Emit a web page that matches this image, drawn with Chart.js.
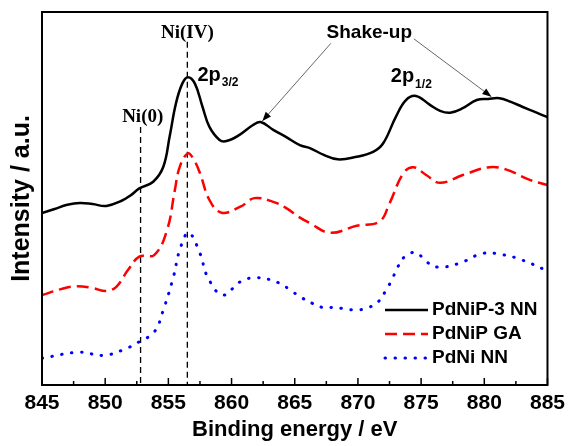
<!DOCTYPE html>
<html><head><meta charset="utf-8">
<script src="https://cdn.jsdelivr.net/npm/chart.js@4/dist/chart.umd.min.js"></script>
<style>html,body{margin:0;padding:0;background:#fff}</style>
</head><body>
<canvas id="c" width="571" height="446"></canvas>
<script>
// ---- data ----
const seriesNames = ['PdNiP-3 NN', 'PdNiP GA', 'PdNi NN'];

const energyBlack = [845, 846, 847, 848, 849, 850.1, 851.3, 852, 852.7, 853.8, 854.6, 855.1, 855.6, 856.1, 856.55, 857.1, 857.7, 858.25, 859.05, 859.6, 860.6, 861.7, 862.3, 863.3, 864.3, 865.4, 866.2, 867.3, 868.4, 869.8, 871.2, 872, 873, 873.8, 874.6, 875.7, 876.5, 877.3, 878.3, 879.4, 880.3, 881.2, 882.1, 883, 884, 885];
const intensityBlack = [46.1, 47.2, 48.3, 48.8, 48.5, 48.0, 49.4, 50.8, 52.7, 54.5, 58.5, 66.6, 75.5, 80.8, 82.5, 80.8, 74.6, 69.2, 65.7, 65.4, 67.0, 69.7, 70.5, 68.4, 66.5, 64.3, 63.5, 61.7, 60.5, 61.1, 62.5, 64.8, 71.9, 76.4, 77.5, 75.1, 73.5, 73.0, 74.2, 76.4, 76.7, 76.9, 75.9, 74.6, 73.2, 71.8];

const energyRed = [845, 846.5, 847.7, 849, 850.1, 850.9, 851.8, 852.7, 853.9, 854.9, 855.5, 855.9, 856.55, 857.0, 857.5, 858.25, 859.2, 860.7, 861.8, 863.3, 864.3, 865.3, 866.2, 867.8, 869.9, 871.7, 872.5, 873.6, 874.4, 875.4, 876.5, 878.3, 880.4, 881.7, 883.6, 885];
const intensityRed = [24.1, 25.7, 26.5, 26.0, 25.2, 26.4, 30.8, 34.4, 34.9, 41.6, 52.0, 58.5, 62.1, 60.5, 56.8, 49.6, 46.2, 47.8, 50.1, 49.1, 47.5, 45.1, 43.4, 40.8, 42.7, 43.8, 48.7, 56.8, 58.4, 56.3, 54.2, 56.3, 58.4, 57.8, 55.0, 53.6];

const energyBlue = [845, 848, 849.8, 851.4, 852.7, 853.9, 854.6, 855.4, 855.9, 856.6, 857.5, 858.1, 859.3, 860.7, 862, 863.8, 864.7, 865.5, 866.4, 867.2, 868.1, 869, 869.8, 870.7, 871.6, 872.2, 872.7, 873.1, 873.7, 874.6, 875.4, 876.3, 878, 879.9, 881.5, 883, 885];
const intensityBlue = [7.2, 8.8, 7.9, 9.4, 11.6, 14.3, 20.1, 29.0, 36.2, 40.8, 35.3, 29.0, 24.1, 27.7, 28.8, 27.3, 25.3, 23.5, 21.9, 20.8, 20.8, 20.4, 20.1, 20.6, 22.3, 25.3, 28.3, 31.3, 34.4, 35.5, 33.1, 31.6, 32.6, 35.3, 34.9, 33.5, 30.6];

const refEnergies = [852.8, 856.5];      // Ni(0), Ni(IV)
const refTops = [69.2, 92.0];
const xTickValues = [845, 850, 855, 860, 865, 870, 875, 880, 885];
const xMinorValues = [847.5, 852.5, 857.5, 862.5, 867.5, 872.5, 877.5, 882.5];

// ---- chart ----
const FONT = '"Liberation Sans", Arial, Helvetica, sans-serif';
const SERIF = '"Liberation Serif", "Times New Roman", serif';
const pts = (xs, ys) => xs.map((v, i) => ({x: v, y: ys[i]}));

const datasets = [
  {label: seriesNames[0], data: pts(energyBlack, intensityBlack), borderColor: '#000000', borderWidth: 2.5, borderDash: [], borderCapStyle: 'butt'},
  {label: seriesNames[1], data: pts(energyRed, intensityRed), borderColor: '#ff0000', borderWidth: 2.5, borderDash: [12, 6], borderCapStyle: 'butt'},
  {label: seriesNames[2], data: pts(energyBlue, intensityBlue), borderColor: '#0000ff', borderWidth: 3, borderDash: [0.5, 9.5], borderCapStyle: 'round'},
];
refEnergies.forEach((e, i) => {
  datasets.push({label: 'ref' + i, data: [{x: e, y: refTops[i]}, {x: e, y: 0}], borderColor: '#000000', borderWidth: 1.3, borderDash: [6, 4], isRef: true});
});
datasets.forEach(d => { d.pointRadius = 0; d.fill = false; d.tension = d.isRef ? 0 : 0.4; });

function txt(ctx, s, x, y, font, align) {
  ctx.font = font; ctx.textAlign = align || 'left'; ctx.textBaseline = 'middle'; ctx.fillStyle = '#000';
  ctx.fillText(s, x, y);
}
function subLabel(ctx, main, sub, x, y) {
  ctx.font = 'bold 20px ' + FONT;
  ctx.textAlign = 'left'; ctx.textBaseline = 'middle'; ctx.fillStyle = '#000';
  ctx.fillText(main, x, y);
  const w = ctx.measureText(main).width;
  ctx.font = 'bold 12px ' + FONT;
  ctx.fillText(sub, x + w + 1, y + 8);
}
function arrow(ctx, x1, y1, x2, y2) {
  ctx.save();
  ctx.strokeStyle = '#666'; ctx.lineWidth = 1; ctx.setLineDash([]);
  ctx.beginPath(); ctx.moveTo(x1, y1); ctx.lineTo(x2, y2); ctx.stroke();
  const a = Math.atan2(y2 - y1, x2 - x1), L = 9, W = 3.5;
  ctx.fillStyle = '#000';
  ctx.beginPath();
  ctx.moveTo(x2, y2);
  ctx.lineTo(x2 - L * Math.cos(a) + W * Math.sin(a), y2 - L * Math.sin(a) - W * Math.cos(a));
  ctx.lineTo(x2 - L * Math.cos(a) - W * Math.sin(a), y2 - L * Math.sin(a) + W * Math.cos(a));
  ctx.closePath(); ctx.fill();
  ctx.restore();
}

const decor = {
  id: 'decor',
  afterDraw(chart) {
    const {ctx, chartArea: a, scales: {x, y}} = chart;
    ctx.save();
    // frame
    ctx.strokeStyle = '#000'; ctx.lineWidth = 2; ctx.setLineDash([]);
    ctx.strokeRect(a.left, a.top, a.right - a.left, a.bottom - a.top);
    // inward ticks
    ctx.lineWidth = 1.5;
    xTickValues.forEach(v => { const px = x.getPixelForValue(v); ctx.beginPath(); ctx.moveTo(px, a.bottom); ctx.lineTo(px, a.bottom - 7); ctx.stroke(); });
    xMinorValues.forEach(v => { const px = x.getPixelForValue(v); ctx.beginPath(); ctx.moveTo(px, a.bottom); ctx.lineTo(px, a.bottom - 4); ctx.stroke(); });
    // y title
    ctx.save();
    ctx.translate(22, (a.top + a.bottom) / 2);
    ctx.rotate(-Math.PI / 2);
    txt(ctx, 'Intensity / a.u.', 0, 0, 'bold 25px ' + FONT, 'center');
    ctx.restore();
    // legend
    const rows = [310, 334, 358];
    for (let i = 0; i < 3; i++) {
      const d = chart.data.datasets[i];
      ctx.save();
      ctx.strokeStyle = d.borderColor; ctx.lineWidth = d.borderWidth; ctx.setLineDash(d.borderDash); ctx.lineCap = d.borderCapStyle;
      ctx.beginPath(); ctx.moveTo(385, rows[i]); ctx.lineTo(428, rows[i]); ctx.stroke();
      ctx.restore();
      txt(ctx, d.label, 432, rows[i], 'bold 19px ' + FONT);
    }
    // annotations
    const P = (ex, iv) => [x.getPixelForValue(ex), y.getPixelForValue(iv)];
    let p;
    p = P(856.5, 94.4); txt(ctx, 'Ni(IV)', p[0], p[1], 'bold 19px ' + SERIF, 'center');
    p = P(852.97, 71.8); txt(ctx, 'Ni(0)', p[0], p[1], 'bold 19px ' + SERIF, 'center');
    p = P(857.3, 83.1); subLabel(ctx, '2p', '3/2', p[0], p[1]);
    p = P(872.6, 82.6); subLabel(ctx, '2p', '1/2', p[0], p[1]);
    p = P(870.9, 94.4); txt(ctx, 'Shake-up', p[0], p[1], 'bold 19px ' + FONT, 'center');
    let s = P(867.86, 91.6), e = P(862.44, 70.8); arrow(ctx, s[0], s[1], e[0], e[1]);
    s = P(874.43, 92.8); e = P(880.56, 77.3); arrow(ctx, s[0], s[1], e[0], e[1]);
    ctx.restore();
  }
};

new Chart(document.getElementById('c'), {
  type: 'line',
  data: {datasets},
  options: {
    responsive: false, animation: false, devicePixelRatio: 1,
    layout: {padding: {top: 12, right: 22, left: 0, bottom: 0}},
    plugins: {legend: {display: false}, tooltip: {enabled: false}},
    scales: {
      x: {
        type: 'linear', min: 845, max: 885,
        grid: {display: false, drawTicks: false},
        border: {display: true, color: '#000', width: 2},
        ticks: {stepSize: 5, padding: 6, color: '#000', font: {family: FONT, size: 21, weight: 'bold'}, maxRotation: 0, callback: v => String(v)},
        title: {display: true, text: 'Binding energy / eV', color: '#000', font: {family: FONT, size: 22, weight: 'bold'}, padding: {top: 0, bottom: 3}},
        afterFit: s => { s.height = 61; }
      },
      y: {
        min: 0, max: 100,
        grid: {display: false, drawTicks: false},
        border: {display: true, color: '#000', width: 2},
        ticks: {display: false},
        afterFit: s => { s.width = 42; }
      }
    }
  },
  plugins: [decor]
});
</script>
</body></html>
